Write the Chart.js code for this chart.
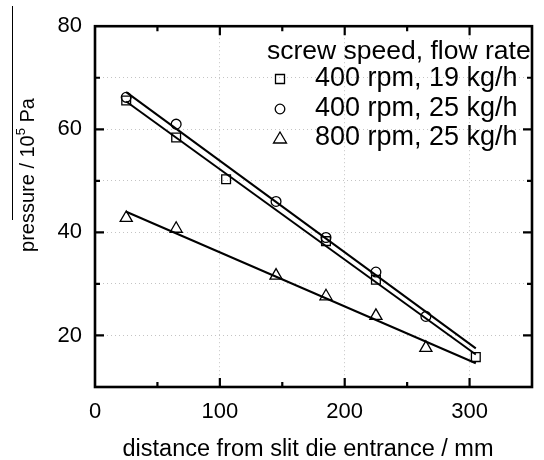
<!DOCTYPE html>
<html>
<head>
<meta charset="utf-8">
<script src="https://cdn.jsdelivr.net/npm/chart.js@4/dist/chart.umd.min.js"></script>
<style>
  html, body { margin: 0; padding: 0; background: #fff; }
  canvas { display: block; }
</style>
</head>
<body>
<canvas id="c" width="544" height="460"></canvas>
<script>
const FONT = '"Liberation Sans", Arial, Helvetica, sans-serif';

// Series labels and axis texts
const legendTitle = 'screw speed, flow rate';
const seriesNames = ['400 rpm, 19 kg/h', '400 rpm, 25 kg/h', '800 rpm, 25 kg/h'];
const xTitle = 'distance from slit die entrance / mm';

// Measured pressures (10^5 Pa) along the die (mm)
const xSquares = [25, 65, 105, 185, 225, 305];
const pSquares = [65.6, 58.4, 50.3, 38.3, 30.8, 15.8];
const xCircles = [25, 65, 145, 185, 225, 265];
const pCircles = [66.2, 61.0, 46.0, 39.0, 32.3, 23.7];
const xTriangles = [25, 65, 145, 185, 225, 265];
const pTriangles = [42.8, 40.7, 31.6, 27.6, 23.8, 17.6];

// Straight fit lines, end points
const fitX = [25, 305];
const fitSquares = [65.4, 16.3];
const fitCircles = [67.2, 17.5];
const fitTriangles = [44.0, 14.6];

// Axis ticks
const xTicks = [0, 50, 100, 150, 200, 250, 300, 350];
const xLabelled = [0, 100, 200, 300];
const yTicks = [10, 20, 30, 40, 50, 60, 70, 80];
const yLabelled = [20, 40, 60, 80];

const toPts = (xs, ys) => xs.map((x, i) => ({ x: x, y: ys[i] }));

const markerStyles = ['rect', 'circle', 'triangle'];
const markerRadius = [6.2, 4.9, 7];

function markerSet(xs, ys, i) {
  return {
    type: 'scatter',
    label: seriesNames[i],
    data: toPts(xs, ys),
    showLine: false,
    pointStyle: markerStyles[i],
    pointRadius: markerRadius[i],
    pointBorderWidth: 1.3,
    pointBorderColor: '#000',
    pointBackgroundColor: 'rgba(255,255,255,0)',
    order: 1
  };
}
function fitSet(ys) {
  return {
    type: 'line',
    label: '',
    data: toPts(fitX, ys),
    borderColor: '#000',
    borderWidth: 2,
    pointRadius: 0,
    fill: false,
    tension: 0,
    order: 2
  };
}

// Frame around the plot with inward ticks on all four sides
const framePlugin = {
  id: 'frame',
  afterDatasetsDraw(chart) {
    const { ctx, chartArea: a, scales } = chart;
    const xs = scales.x, ys = scales.y;
    ctx.save();
    ctx.strokeStyle = '#000';
    ctx.lineWidth = 2.2;
    xTicks.forEach(v => {
      if (v === 0 || v === 350) return;
      const px = xs.getPixelForValue(v);
      const len = (v % 100 === 0) ? 9 : 5;
      ctx.beginPath();
      ctx.moveTo(px, a.bottom); ctx.lineTo(px, a.bottom - len);
      ctx.moveTo(px, a.top); ctx.lineTo(px, a.top + len);
      ctx.stroke();
    });
    yTicks.forEach(v => {
      if (v === 10 || v === 80) return;
      const py = ys.getPixelForValue(v);
      const len = (v % 20 === 0) ? 9 : 5;
      ctx.beginPath();
      ctx.moveTo(a.left, py); ctx.lineTo(a.left + len, py);
      ctx.moveTo(a.right, py); ctx.lineTo(a.right - len, py);
      ctx.stroke();
    });
    ctx.lineWidth = 2.6;
    ctx.strokeRect(a.left, a.top, a.right - a.left, a.bottom - a.top);
    ctx.restore();
  }
};

// Legend inside the plot, top right
function drawGlyph(ctx, style, x, y) {
  ctx.beginPath();
  if (style === 'rect') {
    ctx.rect(x - 4.5, y - 4.5, 9, 9);
  } else if (style === 'circle') {
    ctx.arc(x, y, 4.8, 0, Math.PI * 2);
  } else {
    ctx.moveTo(x, y - 6);
    ctx.lineTo(x + 6.5, y + 5);
    ctx.lineTo(x - 6.5, y + 5);
    ctx.closePath();
  }
  ctx.stroke();
}
const legendPlugin = {
  id: 'innerLegend',
  afterDraw(chart) {
    const ctx = chart.ctx;
    ctx.save();
    ctx.fillStyle = '#000';
    ctx.strokeStyle = '#000';
    ctx.lineWidth = 1.3;
    ctx.textBaseline = 'middle';
    ctx.textAlign = 'left';
    ctx.font = '26.5px ' + FONT;
    ctx.fillText(legendTitle, 267, 52);
    ctx.font = '27px ' + FONT;
    const rows = [79, 109, 138];
    seriesNames.forEach((name, i) => {
      drawGlyph(ctx, markerStyles[i], 280, rows[i]);
      ctx.fillText(name, 315, rows[i]);
    });
    ctx.restore();
  }
};

// Axis titles
const titlesPlugin = {
  id: 'axisTitles',
  afterDraw(chart) {
    const ctx = chart.ctx;
    ctx.save();
    ctx.fillStyle = '#000';
    // x title
    ctx.font = '23.5px ' + FONT;
    ctx.textAlign = 'center';
    ctx.textBaseline = 'alphabetic';
    ctx.fillText(xTitle, 308, 456);
    // y title with superscript exponent
    const main = 20, sup = 13;
    const p1 = 'pressure / 10', p2 = '5', p3 = ' Pa';
    ctx.font = main + 'px ' + FONT;
    const w1 = ctx.measureText(p1).width, w3 = ctx.measureText(p3).width;
    ctx.font = sup + 'px ' + FONT;
    const w2 = ctx.measureText(p2).width;
    const total = w1 + w2 + w3;
    ctx.translate(34, 175);
    ctx.rotate(-Math.PI / 2);
    const x0 = -total / 2;
    ctx.textAlign = 'left';
    ctx.font = main + 'px ' + FONT;
    ctx.fillText(p1, x0, 0);
    ctx.font = sup + 'px ' + FONT;
    ctx.fillText(p2, x0 + w1, -9);
    ctx.font = main + 'px ' + FONT;
    ctx.fillText(p3, x0 + w1 + w2, 0);
    ctx.restore();
    // thin rule left of the y title
    ctx.save();
    ctx.strokeStyle = '#000';
    ctx.lineWidth = 1;
    ctx.beginPath();
    ctx.moveTo(12.5, 6);
    ctx.lineTo(12.5, 220);
    ctx.stroke();
    ctx.restore();
  }
};

new Chart(document.getElementById('c'), {
  data: {
    datasets: [
      markerSet(xSquares, pSquares, 0),
      markerSet(xCircles, pCircles, 1),
      markerSet(xTriangles, pTriangles, 2),
      fitSet(fitSquares),
      fitSet(fitCircles),
      fitSet(fitTriangles)
    ]
  },
  options: {
    responsive: false,
    animation: false,
    devicePixelRatio: 1,
    layout: { padding: { top: 17, right: 3, left: 0, bottom: 0 } },
    plugins: { legend: { display: false }, tooltip: { enabled: false } },
    scales: {
      x: {
        type: 'linear',
        min: 0, max: 350,
        afterBuildTicks: s => { s.ticks = xTicks.map(v => ({ value: v })); },
        afterFit: s => { s.height = 73; },
        ticks: {
          padding: 12,
          color: '#000',
          font: { family: FONT, size: 22 },
          maxRotation: 0,
          autoSkip: false,
          callback: v => (xLabelled.includes(v) ? String(v) : '')
        },
        grid: {
          drawTicks: false,
          lineWidth: 1,
          color: c => (c.tick && c.tick.value % 100 === 0 && c.tick.value > 0 && c.tick.value < 350) ? '#c4c4c4' : 'rgba(0,0,0,0)'
        },
        border: { display: false, dash: [1, 3] }
      },
      y: {
        type: 'linear',
        min: 10, max: 80,
        afterBuildTicks: s => { s.ticks = yTicks.map(v => ({ value: v })); },
        afterFit: s => { s.width = 95; },
        ticks: {
          padding: 13,
          color: '#000',
          font: { family: FONT, size: 22 },
          autoSkip: false,
          callback: v => (yLabelled.includes(v) ? String(v) : '')
        },
        grid: {
          drawTicks: false,
          lineWidth: 1,
          color: c => (c.tick && c.tick.value > 10 && c.tick.value < 80) ? '#c4c4c4' : 'rgba(0,0,0,0)'
        },
        border: { display: false, dash: [1, 3] }
      }
    }
  },
  plugins: [framePlugin, legendPlugin, titlesPlugin]
});
</script>
</body>
</html>
